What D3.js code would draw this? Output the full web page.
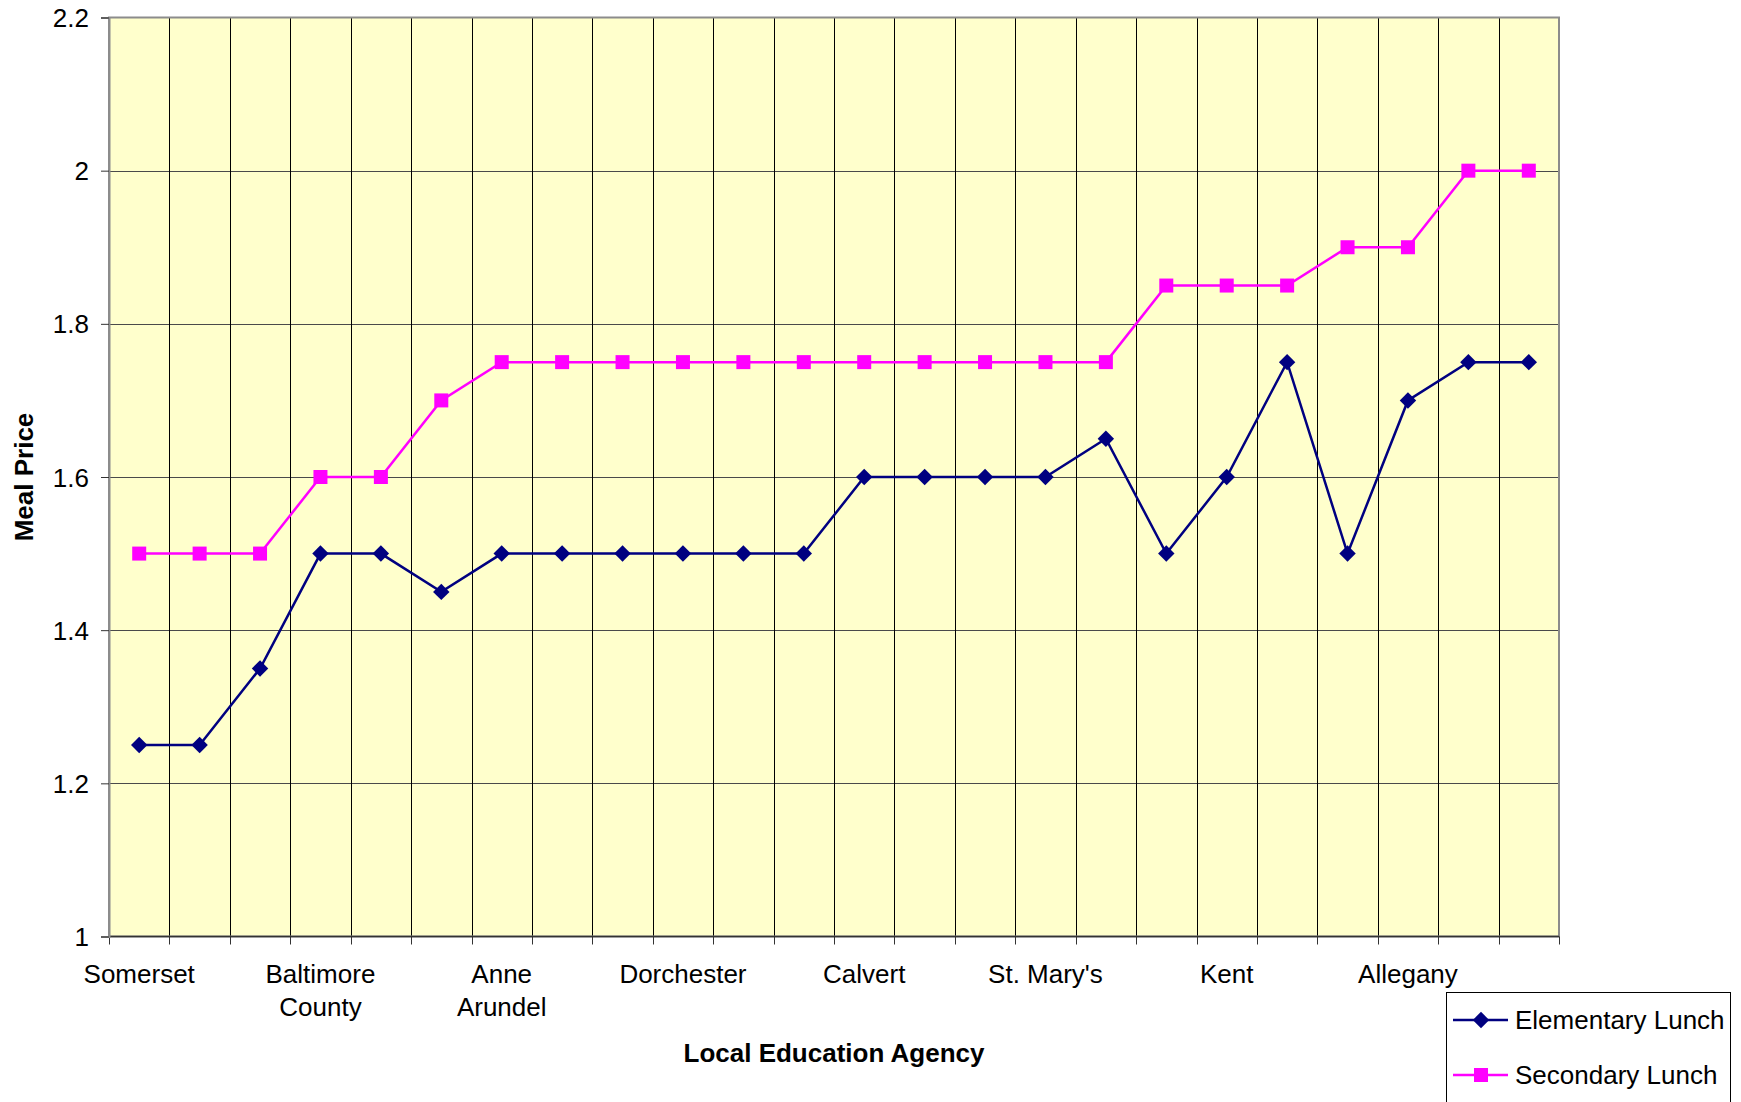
<!DOCTYPE html>
<html>
<head>
<meta charset="utf-8">
<script src="https://cdn.jsdelivr.net/npm/d3@7"></script>
<style>
  html, body { margin: 0; padding: 0; background: #fff; }
  svg { display: block; font-family: "Liberation Sans", Arial, sans-serif; }
</style>
</head>
<body>
<svg id="chart" width="1741" height="1102"></svg>
<script>
// ---- data ----
const categories = [
  "Somerset", "Caroline", "Garrett", "Baltimore\nCounty", "Cecil", "Wicomico",
  "Anne\nArundel", "Worcester", "Talbot", "Dorchester", "Queen Anne's", "Harford",
  "Calvert", "Charles", "Frederick", "St. Mary's", "Washington", "Baltimore City",
  "Kent", "Howard", "Prince George's", "Allegany", "Carroll", "Montgomery"
];
const labelEvery = 3;
const elementaryLunch = [1.25, 1.25, 1.35, 1.5, 1.5, 1.45, 1.5, 1.5, 1.5, 1.5, 1.5, 1.5,
                         1.6, 1.6, 1.6, 1.6, 1.65, 1.5, 1.6, 1.75, 1.5, 1.7, 1.75, 1.75];
const secondaryLunch  = [1.5, 1.5, 1.5, 1.6, 1.6, 1.7, 1.75, 1.75, 1.75, 1.75, 1.75, 1.75,
                         1.75, 1.75, 1.75, 1.75, 1.75, 1.85, 1.85, 1.85, 1.9, 1.9, 2.0, 2.0];
const yTicks = [1, 1.2, 1.4, 1.6, 1.8, 2, 2.2];
const seriesNames = ["Elementary Lunch", "Secondary Lunch"];
const xTitle = "Local Education Agency";
const yTitle = "Meal Price";

// ---- layout ----
const L = 109, R = 1559, T = 17.5, B = 936.5;
const svg = d3.select("#chart");

const x = d3.scaleBand().domain(d3.range(categories.length)).range([L, R]).padding(0);
const y = d3.scaleLinear().domain([1, 2.2]).range([B, T]);

// plot background
svg.append("rect").attr("x", L).attr("y", T).attr("width", R - L).attr("height", B - T)
  .attr("fill", "#FFFFCC");

// horizontal grid
svg.append("g").selectAll("line").data(yTicks.filter(v => v > 1 && v < 2.2)).join("line")
  .attr("x1", L).attr("x2", R)
  .attr("y1", d => Math.round(y(d)) + 0.5).attr("y2", d => Math.round(y(d)) + 0.5)
  .attr("stroke", "#4a4a4a").attr("stroke-width", 1);

// vertical grid at category boundaries
svg.append("g").selectAll("line").data(d3.range(1, categories.length)).join("line")
  .attr("x1", d => Math.round(x(d)) + 0.5).attr("x2", d => Math.round(x(d)) + 0.5)
  .attr("y1", T).attr("y2", B)
  .attr("stroke", "#000").attr("stroke-width", 1);

// plot border
svg.append("rect").attr("x", L).attr("y", T).attr("width", R - L).attr("height", B - T)
  .attr("fill", "none").attr("stroke", "#8c8c8c").attr("stroke-width", 2);

// x axis ticks (at boundaries)
svg.append("g").selectAll("line").data(d3.range(0, categories.length + 1)).join("line")
  .attr("x1", d => Math.round(d === categories.length ? R : x(d)) + 0.5)
  .attr("x2", d => Math.round(d === categories.length ? R : x(d)) + 0.5)
  .attr("y1", B).attr("y2", B + 8)
  .attr("stroke", "#333").attr("stroke-width", 1);
svg.append("line").attr("x1", L).attr("x2", R).attr("y1", B).attr("y2", B)
  .attr("stroke", "#333").attr("stroke-width", 1.5);

// x tick labels
const xLab = svg.append("g").attr("font-size", 26).attr("fill", "#000");
categories.forEach((c, i) => {
  if (i % labelEvery !== 0) return;
  const t = xLab.append("text").attr("text-anchor", "middle")
    .attr("x", x(i) + x.bandwidth() / 2).attr("y", 983);
  c.split("\n").forEach((ln, k) => {
    t.append("tspan").attr("x", x(i) + x.bandwidth() / 2).attr("dy", k === 0 ? 0 : 33).text(ln);
  });
});

// y axis
const yAxis = d3.axisLeft(y).tickValues(yTicks).tickSize(8).tickPadding(12)
  .tickFormat(d => d3.format("")(+d.toFixed(1)));
const gy = svg.append("g").attr("transform", `translate(${L},0)`).call(yAxis);
gy.select(".domain").attr("stroke", "#8c8c8c").attr("stroke-width", 2);
gy.selectAll(".tick line").attr("stroke", "#333");
gy.selectAll(".tick text").attr("font-size", 26).attr("fill", "#000")
  .attr("font-family", "Liberation Sans, Arial, sans-serif").attr("dy", "0.35em");

// titles
svg.append("text").attr("x", (L + R) / 2).attr("y", 1062).attr("text-anchor", "middle")
  .attr("font-size", 26).attr("font-weight", "bold").text(xTitle);
svg.append("text").attr("transform", `translate(33,${(T + B) / 2}) rotate(-90)`)
  .attr("text-anchor", "middle").attr("font-size", 26).attr("font-weight", "bold").text(yTitle);

// series
const cx = i => x(i) + x.bandwidth() / 2;
const line = d3.line().x((d, i) => cx(i)).y(d => y(d));

function drawSeries(vals, color, marker) {
  const g = svg.append("g");
  g.append("path").datum(vals).attr("d", line).attr("fill", "none")
    .attr("stroke", color).attr("stroke-width", 2.5);
  if (marker === "diamond") {
    g.selectAll("path.m").data(vals).join("path").attr("class", "m")
      .attr("d", d3.symbol().type(d3.symbolSquare).size(135))
      .attr("transform", (d, i) => `translate(${cx(i)},${y(d)}) rotate(45)`)
      .attr("fill", color);
  } else {
    g.selectAll("rect.m").data(vals).join("rect").attr("class", "m")
      .attr("x", (d, i) => cx(i) - 7).attr("y", d => y(d) - 7)
      .attr("width", 14).attr("height", 14).attr("fill", color);
  }
}
drawSeries(elementaryLunch, "#000080", "diamond");
drawSeries(secondaryLunch, "#FF00FF", "square");

// legend
const lg = svg.append("g");
lg.append("rect").attr("x", 1446.5).attr("y", 992.5).attr("width", 284).attr("height", 130)
  .attr("fill", "#fff").attr("stroke", "#000").attr("stroke-width", 1);
const legendItems = [
  { name: seriesNames[0], color: "#000080", marker: "diamond", yy: 1020 },
  { name: seriesNames[1], color: "#FF00FF", marker: "square", yy: 1075 }
];
legendItems.forEach(it => {
  lg.append("line").attr("x1", 1453).attr("x2", 1508).attr("y1", it.yy).attr("y2", it.yy)
    .attr("stroke", it.color).attr("stroke-width", 2.5);
  if (it.marker === "diamond") {
    lg.append("path").attr("d", d3.symbol().type(d3.symbolSquare).size(135))
      .attr("transform", `translate(1481,${it.yy}) rotate(45)`).attr("fill", it.color);
  } else {
    lg.append("rect").attr("x", 1474).attr("y", it.yy - 7).attr("width", 14).attr("height", 14)
      .attr("fill", it.color);
  }
  lg.append("text").attr("x", 1515).attr("y", it.yy).attr("dy", "0.35em")
    .attr("font-size", 26).attr("fill", "#000").text(it.name);
});
</script>
</body>
</html>
